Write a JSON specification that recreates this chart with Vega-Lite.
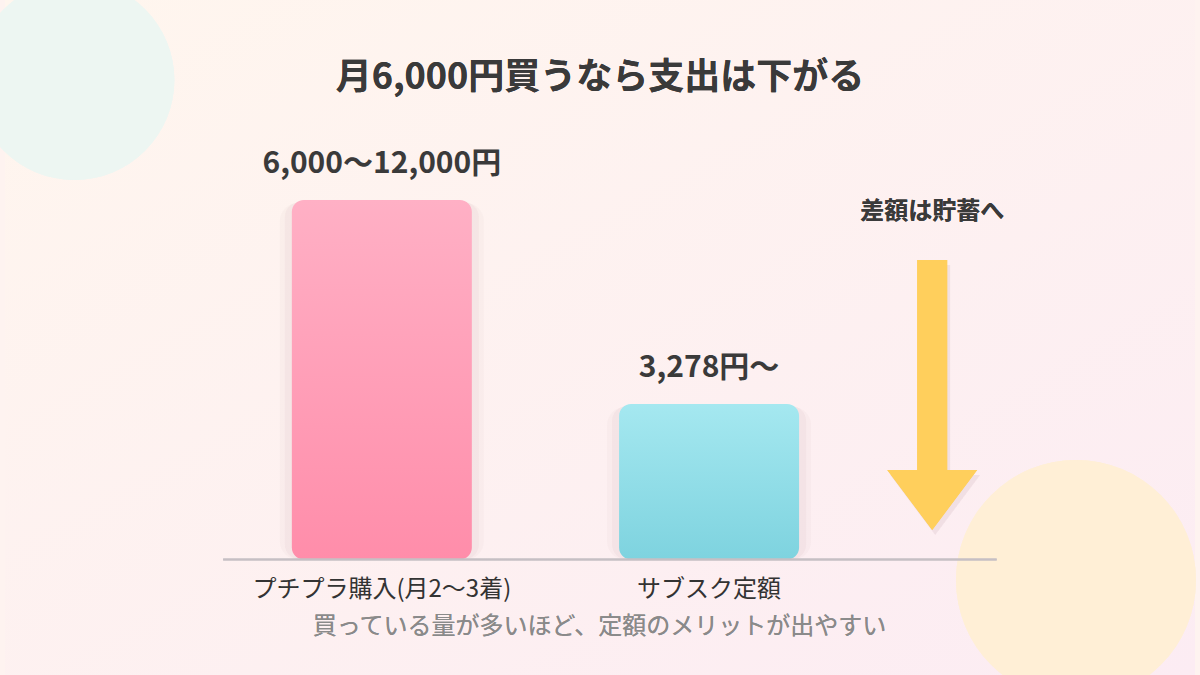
{
  "$schema": "https://vega.github.io/schema/vega-lite/v6.json",
  "width": 1200,
  "height": 675,
  "autosize": "none",
  "padding": 0,
  "background": "#fef3f0",
  "config": {"view": {"stroke": null}, "font": "Noto Sans CJK JP"},
  "data": {"values": [
    {"item": "プチプラ購入(月2〜3着)", "order": 1, "level": 100, "price": "6,000〜12,000円"},
    {"item": "サブスク定額", "order": 2, "level": 43.25, "price": "3,278円〜"}
  ]},
  "encoding": {
    "x": {"type": "quantitative", "scale": {"domain": [-0.151515, 3.484848], "nice": false, "zero": false}, "axis": null},
    "y": {"type": "quantitative", "scale": {"domain": [-32.13, 155.63], "nice": false, "zero": false}, "axis": null}
  },
  "layer": [
    {
      "mark": {"type": "rect", "color": {"gradient": "linear", "x1": 0, "y1": 0, "x2": 1, "y2": 1, "stops": [{"offset": 0, "color": "#fff6ee"}, {"offset": 1, "color": "#fcecf3"}]}},
      "encoding": {
        "x": {"datum": -0.151515, "type": "quantitative"},
        "x2": {"datum": 3.484848},
        "y": {"datum": -32.13, "type": "quantitative"},
        "y2": {"datum": 155.63}
      }
    },
    {
      "mark": {"type": "point", "filled": true, "shape": "circle", "size": 40000, "color": "#edf6f2", "opacity": 1, "clip": true},
      "encoding": {"x": {"datum": 0.0606, "type": "quantitative"}, "y": {"datum": 133.38, "type": "quantitative"}}
    },
    {
      "mark": {"type": "point", "filled": true, "shape": "circle", "size": 57600, "color": "#ffefd6", "opacity": 1, "clip": true},
      "encoding": {"x": {"datum": 3.1212, "type": "quantitative"}, "y": {"datum": -5.7, "type": "quantitative"}}
    },
    {
      "mark": {"type": "text", "fontSize": 36, "fontWeight": "bold", "color": "#3a3a3a", "baseline": "middle", "align": "center", "text": "月6,000円買うなら支出は下がる"},
      "encoding": {"x": {"datum": 1.6667, "type": "quantitative"}, "y": {"datum": 133.93, "type": "quantitative"}}
    },
    {
      "mark": {"type": "bar", "width": 204, "cornerRadius": 18, "color": "#9a6b7c", "opacity": 0.035, "yOffset": 3},
      "encoding": {"x": {"field": "order", "type": "quantitative"}, "y": {"field": "level", "type": "quantitative"}, "y2": {"datum": 0}}
    },
    {
      "mark": {"type": "bar", "width": 194, "cornerRadius": 15, "color": "#9a6b7c", "opacity": 0.05, "yOffset": 2},
      "encoding": {"x": {"field": "order", "type": "quantitative"}, "y": {"field": "level", "type": "quantitative"}, "y2": {"datum": 0}}
    },
    {
      "transform": [{"filter": "datum.order == 1"}],
      "mark": {"type": "bar", "width": 180, "cornerRadius": 12, "color": {"gradient": "linear", "x1": 0, "y1": 0, "x2": 0, "y2": 1, "stops": [{"offset": 0, "color": "#ffb0c5"}, {"offset": 1, "color": "#ff8daa"}]}},
      "encoding": {"x": {"field": "order", "type": "quantitative"}, "y": {"field": "level", "type": "quantitative"}, "y2": {"datum": 0}}
    },
    {
      "transform": [{"filter": "datum.order == 2"}],
      "mark": {"type": "bar", "width": 180, "cornerRadius": 12, "color": {"gradient": "linear", "x1": 0, "y1": 0, "x2": 0, "y2": 1, "stops": [{"offset": 0, "color": "#a5e8f0"}, {"offset": 1, "color": "#7ed3df"}]}},
      "encoding": {"x": {"field": "order", "type": "quantitative"}, "y": {"field": "level", "type": "quantitative"}, "y2": {"datum": 0}}
    },
    {
      "mark": {"type": "rule", "color": "#c6bfc4", "strokeWidth": 2},
      "encoding": {"x": {"datum": 0.51515, "type": "quantitative"}, "x2": {"datum": 2.87879}, "y": {"datum": 0, "type": "quantitative"}}
    },
    {
      "mark": {"type": "text", "fontSize": 30, "fontWeight": "bold", "color": "#3a3a3a", "baseline": "middle", "align": "center", "dy": -36},
      "encoding": {"x": {"field": "order", "type": "quantitative"}, "y": {"field": "level", "type": "quantitative"}, "text": {"field": "price"}}
    },
    {
      "mark": {"type": "text", "fontSize": 24, "color": "#333333", "baseline": "middle", "align": "center"},
      "encoding": {"x": {"field": "order", "type": "quantitative"}, "y": {"datum": -8.48, "type": "quantitative"}, "text": {"field": "item"}}
    },
    {
      "mark": {"type": "text", "fontSize": 24, "color": "#8a8a8a", "baseline": "middle", "align": "center", "text": "買っている量が多いほど、定額のメリットが出やすい"},
      "encoding": {"x": {"datum": 1.6652, "type": "quantitative"}, "y": {"datum": -18.78, "type": "quantitative"}}
    },
    {
      "mark": {"type": "point", "filled": true, "shape": "M-0.111,-1L0.111,-1L0.111,0.556L0.333,0.556L0,1L-0.333,0.556L-0.111,0.556Z", "size": 72900, "color": "#b08a98", "opacity": 0.08, "xOffset": 3, "yOffset": 5},
      "encoding": {"x": {"datum": 2.6818, "type": "quantitative"}, "y": {"datum": 45.76, "type": "quantitative"}}
    },
    {
      "mark": {"type": "point", "filled": true, "shape": "M-0.111,-1L0.111,-1L0.111,0.556L0.333,0.556L0,1L-0.333,0.556L-0.111,0.556Z", "size": 72900, "color": "#ffcf5c", "opacity": 1},
      "encoding": {"x": {"datum": 2.6818, "type": "quantitative"}, "y": {"datum": 45.76, "type": "quantitative"}}
    },
    {
      "mark": {"type": "text", "fontSize": 24, "fontWeight": "bold", "color": "#3a3a3a", "baseline": "middle", "align": "center", "text": "差額は貯蓄へ"},
      "encoding": {"x": {"datum": 2.6818, "type": "quantitative"}, "y": {"datum": 96.66, "type": "quantitative"}}
    }
  ]
}
